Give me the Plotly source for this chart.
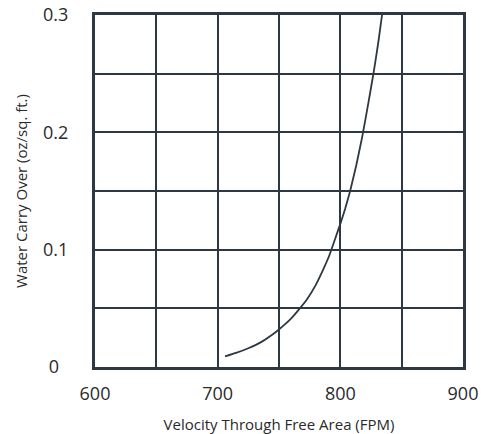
import plotly.graph_objects as go

velocity = [706, 715, 725, 735, 745, 750, 755, 760, 767, 773, 780, 786, 791,
            796, 800, 804, 808, 813, 818, 823, 827, 831, 834]
carry_over = [0.009, 0.012, 0.016, 0.021, 0.028, 0.032, 0.0365, 0.0415, 0.050, 0.058,
              0.070, 0.083, 0.095, 0.110, 0.122, 0.135, 0.150, 0.172, 0.197, 0.226,
              0.250, 0.277, 0.300]

x_ticks = [600, 650, 700, 750, 800, 850, 900]
x_labels = ["600", "", "700", "", "800", "", "900"]
y_ticks = [0, 0.05, 0.1, 0.15, 0.2, 0.25, 0.3]
y_labels = ["0&#160;&#160;", "", "0.1", "", "0.2", "", "0.3"]

ink = "#2e3842"
font = "Open Sans, Noto Sans, sans-serif"

fig = go.Figure()
fig.add_trace(go.Scatter(x=velocity, y=carry_over, mode="lines",
                         line=dict(color=ink, width=1.8, shape="spline", smoothing=0.3),
                         showlegend=False, hoverinfo="skip"))

fig.update_layout(
    width=481, height=434,
    margin=dict(l=95, r=18, t=15, b=67, autoexpand=False),
    paper_bgcolor="white", plot_bgcolor="white",
    font=dict(family=font, color="#2a2a2a"),
    xaxis=dict(range=[600, 900], tickvals=x_ticks, ticktext=x_labels,
               showgrid=True, gridcolor=ink, gridwidth=2, zeroline=False,
               showline=True, linecolor=ink, linewidth=3, mirror=True,
               ticks="", ticklabelstandoff=8, tickfont=dict(size=18),
               automargin=False,
               title=dict(text="Velocity Through Free Area (FPM)",
                          font=dict(size=15), standoff=16)),
    yaxis=dict(range=[0, 0.3], tickvals=y_ticks, ticktext=y_labels,
               showgrid=True, gridcolor=ink, gridwidth=2, zeroline=False,
               showline=True, linecolor=ink, linewidth=3, mirror=True,
               ticks="", ticklabelstandoff=20, tickfont=dict(size=18),
               automargin=False,
               title=dict(text="Water Carry Over (oz/sq. ft.)",
                          font=dict(size=15), standoff=12)),
)

fig.write_html("out.html", config={"displayModeBar": False},
               post_script="document.body.style.margin='0';document.body.style.overflow='hidden';")
